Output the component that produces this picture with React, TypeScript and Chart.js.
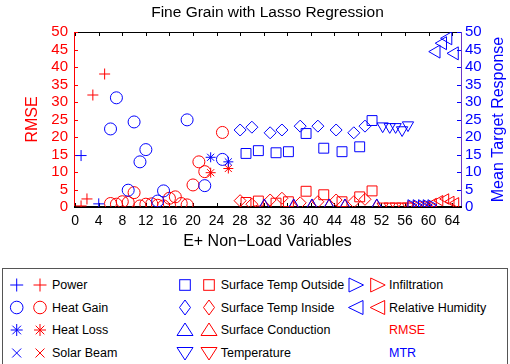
import React, { useEffect, useRef } from 'react';
import { Chart, registerables } from 'chart.js';

Chart.register(...registerables);

const RED = '#ff0000';
const BLUE = '#0000ff';
const AXIS_PURPLE = '#6a35c8';
const FONT = "'Liberation Sans', Arial, Helvetica, sans-serif";

const chartTitle = 'Fine Grain with Lasso Regression';
const xTitle = 'E+ Non\u2212Load Variables';
const leftTitle = 'RMSE';
const rightTitle = 'Mean Target Response';

const xTicks = [0, 4, 8, 12, 16, 20, 24, 28, 32, 36, 40, 44, 48, 52, 56, 60, 64];
const yTicks = [0, 5, 10, 15, 20, 25, 30, 35, 40, 45, 50];

// Power (+)
const powerX_MTR = [1, 4];
const power_MTR = [14.7, 0.9];
const powerX_RMSE = [1, 2, 3, 5];
const power_RMSE = [0.3, 2.3, 32, 38];

// Heat Gain (circle)
const heatGainX_MTR = [6, 7, 9, 10, 11, 12, 14, 15, 19, 22, 25];
const heatGain_MTR = [22.3, 31.2, 4.8, 24.3, 12.9, 16.4, 1.7, 4.6, 24.9, 6.1, 13.6];
const heatGainX_RMSE = [6, 7, 8, 9, 10, 11, 12, 13, 14, 15, 16, 17, 18, 19, 20, 21, 22, 25];
const heatGain_RMSE = [1.0, 0.8, 1.5, 1.3, 4.1, 0.3, 0.8, 0.9, 0.5, 0.3, 2.5, 2.9, 1.0, 0.6, 6.3, 12.9, 10.1, 21.3];

// Heat Loss (*)
const heatLossX = [23, 26];
const heatLoss_MTR = [14.2, 12.9];
const heatLoss_RMSE = [9.8, 11.0];

// Solar Beam (x)
const solarBeamX: number[] = [];
const solarBeam_MTR: number[] = [];
const solarBeam_RMSE: number[] = [];

// Surface Temp Outside (square)
const surfOutX = [29.0, 31.1, 34.1, 36.2, 39.2, 42.2, 45.3, 48.3, 50.4];
const surfOut_MTR = [15.3, 16.1, 15.5, 15.8, 21.0, 16.8, 15.8, 17.2, 24.7];
const surfOut_RMSE = [1.3, 1.7, 1.1, 1.5, 4.5, 3.5, 1.5, 2.9, 4.6];

// Surface Temp Inside (diamond)
const surfInX = [28.0, 30.0, 33.1, 35.1, 38.2, 41.2, 44.3, 47.3, 49.2];
const surfIn_MTR = [22.0, 22.8, 21.2, 22.0, 23.1, 23.1, 22.0, 21.2, 23.1];
const surfIn_RMSE = [1.8, 0.8, 2.0, 2.5, 1.2, 1.5, 2.0, 1.5, 2.2];

// Surface Conduction (up triangle)
const surfCondX = [32.1, 37.1, 40.2, 43.1, 45.8, 51.2];
const surfCond_MTR = [0.3, 0.3, 0.3, 0.3, 0.3, 0.3];
const surfCond_RMSE = [0.2, 0.2, 0.2, 0.2, 0.2, 0.2];

// Temperature (down triangle)
const tempX = [52.2, 53.4, 54.4, 55.5, 56.5];
const temp_MTR = [23.1, 22.9, 22.9, 22.0, 23.4];
const temp_RMSE = [0.2, 0.2, 0.2, 0.2, 0.2];

// Infiltration (right triangle)
const infilX = [57.0, 57.9, 58.8, 59.6, 60.4];
const infil_MTR = [0.6, 0.6, 0.6, 0.6, 0.6];
const infil_RMSE = [0.3, 0.3, 0.3, 0.3, 0.3];

// Relative Humidity (left triangle)
const rhX_MTR = [61.3, 62.4, 63.3, 64.4];
const rh_MTR = [44.4, 46.8, 48.2, 43.9];
const rhX_RMSE = [60.8, 61.9, 62.9, 63.8, 64.6];
const rh_RMSE = [1.0, 1.8, 2.3, 1.6, 1.2];

type Style = 'cross' | 'circle' | 'star' | 'crossRot' | 'rect' | 'rectRot' | 'triangle';

function series(label: string, xs: number[], ys: number[], style: Style, color: string, axis: string, radius: number, rotation = 0) {
  return {
    label,
    data: xs.map((x, i) => ({ x, y: ys[i] })),
    yAxisID: axis,
    showLine: false,
    pointStyle: style,
    pointRadius: radius,
    pointHoverRadius: radius,
    pointRotation: rotation,
    pointBorderColor: color,
    pointBackgroundColor: 'rgba(0,0,0,0)',
    pointBorderWidth: 1,
  };
}

const legendRows = [
  { label: 'Power', shape: 'cross', col: 0, row: 0 },
  { label: 'Heat Gain', shape: 'circle', col: 0, row: 1 },
  { label: 'Heat Loss', shape: 'star', col: 0, row: 2 },
  { label: 'Solar Beam', shape: 'crossRot', col: 0, row: 3 },
  { label: 'Surface Temp Outside', shape: 'rect', col: 1, row: 0 },
  { label: 'Surface Temp Inside', shape: 'rectRot', col: 1, row: 1 },
  { label: 'Surface Conduction', shape: 'triUp', col: 1, row: 2 },
  { label: 'Temperature', shape: 'triDown', col: 1, row: 3 },
  { label: 'Infiltration', shape: 'triRight', col: 2, row: 0 },
  { label: 'Relative Humidity', shape: 'triLeft', col: 2, row: 1 },
];
const legendTextRows = [
  { label: 'RMSE', color: RED, col: 2, row: 2 },
  { label: 'MTR', color: BLUE, col: 2, row: 3 },
];

const colBlueX = [16.7, 185, 356];
const colRedX = [40, 209, 377.7];
const colTextX = [52, 220.7, 389];
const rowY = [17, 39.5, 62, 85];

function Marker({ shape, x, y, color }: { shape: string; x: number; y: number; color: string }) {
  const p = { fill: 'none', stroke: color, strokeWidth: 1 };
  switch (shape) {
    case 'cross':
      return <g {...p}><line x1={x - 6.5} y1={y} x2={x + 6.5} y2={y} /><line x1={x} y1={y - 6.5} x2={x} y2={y + 6.5} /></g>;
    case 'circle':
      return <circle cx={x} cy={y} r={6.3} {...p} />;
    case 'star': {
      const d = 4.3;
      return <g {...p}><line x1={x - 6} y1={y} x2={x + 6} y2={y} /><line x1={x} y1={y - 6} x2={x} y2={y + 6} /><line x1={x - d} y1={y - d} x2={x + d} y2={y + d} /><line x1={x - d} y1={y + d} x2={x + d} y2={y - d} /></g>;
    }
    case 'crossRot': {
      const d = 4.5;
      return <g {...p}><line x1={x - d} y1={y - d} x2={x + d} y2={y + d} /><line x1={x - d} y1={y + d} x2={x + d} y2={y - d} /></g>;
    }
    case 'rect':
      return <rect x={x - 5.3} y={y - 5.3} width={10.6} height={10.6} {...p} />;
    case 'rectRot':
      return <polygon points={`${x},${y - 7.5} ${x + 5.5},${y} ${x},${y + 7.5} ${x - 5.5},${y}`} {...p} />;
    case 'triUp':
      return <polygon points={`${x},${y - 7} ${x + 8},${y + 5.5} ${x - 8},${y + 5.5}`} {...p} />;
    case 'triDown':
      return <polygon points={`${x - 8},${y - 5.5} ${x + 8},${y - 5.5} ${x},${y + 7}`} {...p} />;
    case 'triRight':
      return <polygon points={`${x - 7},${y - 7} ${x + 7.5},${y} ${x - 7},${y + 7}`} {...p} />;
    case 'triLeft':
      return <polygon points={`${x + 7},${y - 7} ${x - 7.5},${y} ${x + 7},${y + 7}`} {...p} />;
    default:
      return null;
  }
}

function Legend() {
  return (
    <svg width={510} height={96} style={{ position: 'absolute', left: 0, top: 268, display: 'block' }}>
      <rect x={2.5} y={0.5} width={505} height={120} fill="#fff" stroke="#555" strokeWidth={1} />
      {legendRows.map((r) => (
        <g key={r.label}>
          <Marker shape={r.shape} x={colBlueX[r.col]} y={rowY[r.row]} color={BLUE} />
          <Marker shape={r.shape} x={colRedX[r.col]} y={rowY[r.row]} color={RED} />
          <text x={colTextX[r.col]} y={rowY[r.row]} dominantBaseline="central" fontFamily={FONT} fontSize={12.5} fill="#000">{r.label}</text>
        </g>
      ))}
      {legendTextRows.map((r) => (
        <text key={r.label} x={colTextX[r.col]} y={rowY[r.row]} dominantBaseline="central" fontFamily={FONT} fontSize={12.5} fill={r.color}>{r.label}</text>
      ))}
    </svg>
  );
}

const framePlugin = {
  id: 'frame',
  beforeDatasetsDraw(chart: any) {
    const { ctx, chartArea } = chart;
    const { left, right, top, bottom } = chartArea;
    const xs = chart.scales.x;
    const yl = chart.scales.y;
    const yr = chart.scales.y2;
    ctx.save();
    ctx.lineWidth = 1;
    ctx.strokeStyle = '#000';
    ctx.beginPath();
    ctx.moveTo(left, Math.round(top) + 0.5);
    ctx.lineTo(right, Math.round(top) + 0.5);
    ctx.stroke();
    ctx.beginPath();
    for (const v of xTicks) {
      const px = Math.round(xs.getPixelForValue(v)) + 0.5;
      ctx.moveTo(px, top);
      ctx.lineTo(px, top + 4);
      ctx.moveTo(px, bottom);
      ctx.lineTo(px, bottom - 4);
    }
    ctx.stroke();
    ctx.strokeStyle = RED;
    ctx.beginPath();
    ctx.moveTo(Math.round(left) + 0.5, top);
    ctx.lineTo(Math.round(left) + 0.5, bottom);
    for (const v of yTicks) {
      const py = Math.round(yl.getPixelForValue(v)) + 0.5;
      ctx.moveTo(left, py);
      ctx.lineTo(left + 4, py);
    }
    ctx.stroke();
    ctx.strokeStyle = AXIS_PURPLE;
    ctx.beginPath();
    ctx.moveTo(Math.round(right) + 0.5, top);
    ctx.lineTo(Math.round(right) + 0.5, bottom);
    ctx.stroke();
    ctx.strokeStyle = BLUE;
    ctx.beginPath();
    for (const v of yTicks) {
      const py = Math.round(yr.getPixelForValue(v)) + 0.5;
      ctx.moveTo(right, py);
      ctx.lineTo(right - 4, py);
    }
    ctx.stroke();
    ctx.strokeStyle = '#000';
    ctx.lineWidth = 2;
    ctx.beginPath();
    ctx.moveTo(left, Math.round(bottom));
    ctx.lineTo(right + 1, Math.round(bottom));
    ctx.stroke();
    ctx.restore();
  },
  afterDraw(chart: any) {
    const { ctx, chartArea } = chart;
    ctx.save();
    ctx.translate(499, (chartArea.top + chartArea.bottom) / 2);
    ctx.rotate(-Math.PI / 2);
    ctx.fillStyle = BLUE;
    ctx.font = `16px ${FONT}`;
    ctx.textAlign = 'center';
    ctx.textBaseline = 'middle';
    ctx.fillText(rightTitle, 0, 0);
    ctx.restore();
  },
};

export default function App() {
  const canvasRef = useRef<HTMLCanvasElement | null>(null);

  useEffect(() => {
    if (!canvasRef.current) return;
    document.body.style.margin = '0';
    Chart.defaults.font.family = FONT;
    const datasets = [
      series('Power MTR', powerX_MTR, power_MTR, 'cross', BLUE, 'y2', 5.5),
      series('Heat Gain MTR', heatGainX_MTR, heatGain_MTR, 'circle', BLUE, 'y2', 6),
      series('Heat Loss MTR', heatLossX, heatLoss_MTR, 'star', BLUE, 'y2', 5),
      series('Solar Beam MTR', solarBeamX, solarBeam_MTR, 'crossRot', BLUE, 'y2', 5),
      series('Surface Temp Outside MTR', surfOutX, surfOut_MTR, 'rect', BLUE, 'y2', 7),
      series('Surface Temp Inside MTR', surfInX, surfIn_MTR, 'rectRot', BLUE, 'y2', 6),
      series('Surface Conduction MTR', surfCondX, surfCond_MTR, 'triangle', BLUE, 'y2', 7),
      series('Temperature MTR', tempX, temp_MTR, 'triangle', BLUE, 'y2', 6.5, 180),
      series('Infiltration MTR', infilX, infil_MTR, 'triangle', BLUE, 'y2', 6, 90),
      series('Relative Humidity MTR', rhX_MTR, rh_MTR, 'triangle', BLUE, 'y2', 7.5, 270),
      series('Power RMSE', powerX_RMSE, power_RMSE, 'cross', RED, 'y', 5.5),
      series('Heat Gain RMSE', heatGainX_RMSE, heatGain_RMSE, 'circle', RED, 'y', 6),
      series('Heat Loss RMSE', heatLossX, heatLoss_RMSE, 'star', RED, 'y', 5),
      series('Solar Beam RMSE', solarBeamX, solarBeam_RMSE, 'crossRot', RED, 'y', 5),
      series('Surface Temp Outside RMSE', surfOutX, surfOut_RMSE, 'rect', RED, 'y', 7),
      series('Surface Temp Inside RMSE', surfInX, surfIn_RMSE, 'rectRot', RED, 'y', 6),
      series('Surface Conduction RMSE', surfCondX, surfCond_RMSE, 'triangle', RED, 'y', 7),
      series('Temperature RMSE', tempX, temp_RMSE, 'triangle', RED, 'y', 6.5, 180),
      series('Infiltration RMSE', infilX, infil_RMSE, 'triangle', RED, 'y', 6, 90),
      series('Relative Humidity RMSE', rhX_RMSE, rh_RMSE, 'triangle', RED, 'y', 6, 270),
    ];
    const chart = new Chart(canvasRef.current, {
      type: 'scatter',
      data: { datasets: datasets as any },
      options: {
        responsive: false,
        animation: false,
        devicePixelRatio: 1,
        layout: { padding: 0 },
        plugins: {
          legend: { display: false },
          tooltip: { enabled: false },
          title: {
            display: true,
            text: chartTitle,
            color: '#000',
            fullSize: false,
            font: { size: 15.5, weight: 'normal', family: FONT, lineHeight: 1.2 },
            padding: { top: 3, bottom: 10.4 },
          },
        },
        scales: {
          x: {
            type: 'linear',
            position: 'bottom',
            min: -0.2,
            max: 65.5,
            afterBuildTicks: (s: any) => { s.ticks = xTicks.map((v) => ({ value: v })); },
            afterFit: (s: any) => { s.height = 61; },
            grid: { display: false, drawTicks: false },
            border: { display: false },
            ticks: { color: '#000', font: { size: 14, family: FONT }, padding: 6, maxRotation: 0, autoSkip: false },
            title: { display: true, text: xTitle, color: '#000', font: { size: 16, family: FONT, lineHeight: 1.2 }, padding: { top: 0, bottom: 16.4 } },
          },
          y: {
            type: 'linear',
            position: 'left',
            min: 0,
            max: 50,
            afterBuildTicks: (s: any) => { s.ticks = yTicks.map((v) => ({ value: v })); },
            afterFit: (s: any) => { s.width = 74; },
            grid: { display: false, drawTicks: false },
            border: { display: false },
            ticks: { color: RED, font: { size: 15, family: FONT }, padding: 6, autoSkip: false },
            title: { display: true, text: leftTitle, color: RED, font: { size: 16, family: FONT, lineHeight: 1.2 }, padding: { top: 23.4, bottom: 0 } },
          },
          y2: {
            type: 'linear',
            position: 'right',
            min: 0,
            max: 50,
            afterBuildTicks: (s: any) => { s.ticks = yTicks.map((v) => ({ value: v })); },
            afterFit: (s: any) => { s.width = 49; },
            grid: { display: false, drawTicks: false },
            border: { display: false },
            ticks: { color: BLUE, font: { size: 15, family: FONT }, padding: 4, autoSkip: false },
          },
        },
      } as any,
      plugins: [framePlugin],
    });
    return () => chart.destroy();
  }, []);

  return (
    <div style={{ position: 'fixed', left: 0, top: 0, width: 510, height: 364, background: '#fff', overflow: 'hidden' }}>
      <canvas ref={canvasRef} width={510} height={268} style={{ display: 'block', width: 510, height: 268 }} />
      <Legend />
    </div>
  );
}
